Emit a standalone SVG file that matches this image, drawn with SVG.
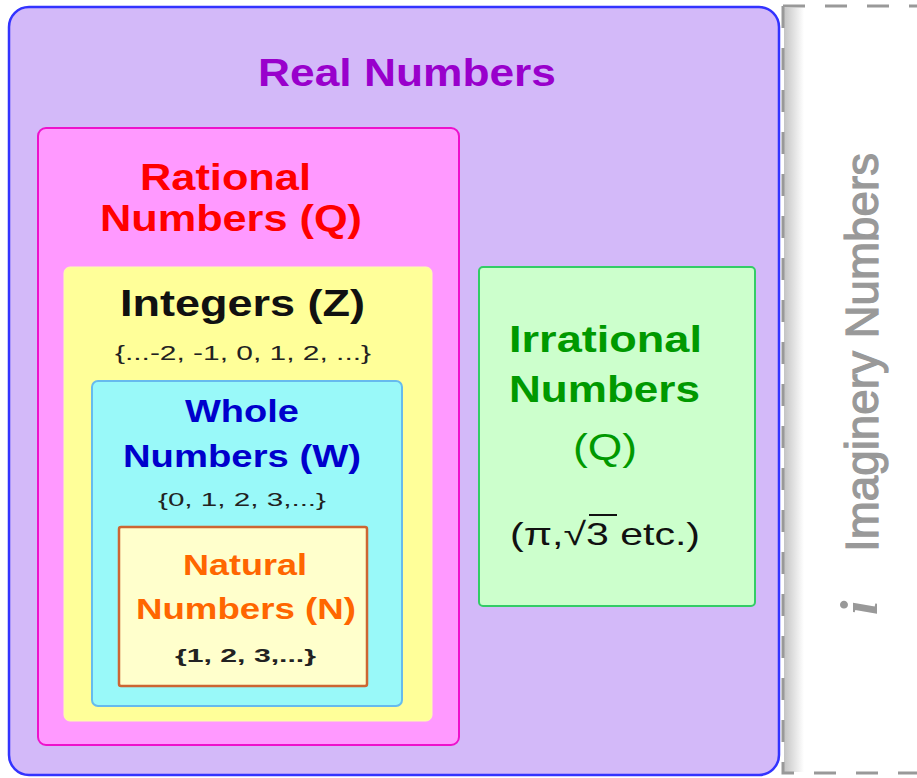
<svg xmlns="http://www.w3.org/2000/svg" width="917" height="778" viewBox="0 0 917 778">
<defs>
<linearGradient id="shadow" x1="0" y1="0" x2="1" y2="0">
<stop offset="0" stop-color="#c4c4c4"/>
<stop offset="1" stop-color="#ffffff"/>
</linearGradient>
</defs>
<style>
text{font-family:"Liberation Sans",Arial,sans-serif;}
.b{font-weight:bold;}
</style>
<rect width="917" height="778" fill="#ffffff"/>
<g id="imaginary">
<rect x="784" y="8" width="20" height="764" fill="url(#shadow)"/>
<path d="M783,6 H917 M783,6 V773 H917" fill="none" stroke="#999999" stroke-width="3" stroke-dasharray="22 20"/>
<text transform="translate(878,552) rotate(-90)" font-size="46" fill="#999999" stroke="#999999" stroke-width="1.2" textLength="399" lengthAdjust="spacingAndGlyphs">Imaginery Numbers</text>
<text transform="translate(877,615) rotate(-90)" font-size="52" fill="#999999" font-style="italic" font-weight="bold" style="font-family:'Liberation Serif',serif">i</text>
</g>
<g id="real">
<rect x="9" y="7" width="770" height="768" rx="20" fill="#d3b9f9" stroke="#3333ff" stroke-width="2.5"/>
<text x="258" y="86" font-size="38" class="b" fill="#9900cc" textLength="298" lengthAdjust="spacingAndGlyphs">Real Numbers</text>
</g>
<g id="rational">
<rect x="38" y="128" width="421" height="617" rx="8" fill="#ff99ff" stroke="#ee11cc" stroke-width="2"/>
<text x="140" y="190" font-size="36" class="b" fill="#ff0000" textLength="171" lengthAdjust="spacingAndGlyphs">Rational</text>
<text x="100" y="231" font-size="36" class="b" fill="#ff0000" textLength="262" lengthAdjust="spacingAndGlyphs">Numbers (Q)</text>
</g>
<g id="integers">
<rect x="64" y="267" width="368" height="454" rx="6" fill="#ffff99" stroke="#fffcb0" stroke-width="1"/>
<text x="120" y="316" font-size="36" class="b" fill="#111111" textLength="245" lengthAdjust="spacingAndGlyphs">Integers (Z)</text>
<text x="115" y="360" font-size="20" fill="#222222" textLength="256" lengthAdjust="spacingAndGlyphs">{...-2, -1, 0, 1, 2, ...}</text>
</g>
<g id="whole">
<rect x="92" y="381" width="310" height="325" rx="6" fill="#99f9f9" stroke="#66bbee" stroke-width="2"/>
<text x="185" y="422" font-size="31" class="b" fill="#0000cc" textLength="114" lengthAdjust="spacingAndGlyphs">Whole</text>
<text x="123" y="467" font-size="31" class="b" fill="#0000cc" textLength="238" lengthAdjust="spacingAndGlyphs">Numbers (W)</text>
<text x="158" y="506" font-size="19" fill="#222222" textLength="168" lengthAdjust="spacingAndGlyphs">{0, 1, 2, 3,...}</text>
</g>
<g id="natural">
<rect x="119" y="527" width="248" height="159" rx="2" fill="#ffffcc" stroke="#cc6633" stroke-width="2.5"/>
<text x="183" y="575" font-size="30" class="b" fill="#ff6600" textLength="124" lengthAdjust="spacingAndGlyphs">Natural</text>
<text x="136" y="619" font-size="30" class="b" fill="#ff6600" textLength="220" lengthAdjust="spacingAndGlyphs">Numbers (N)</text>
<text x="175" y="662" font-size="19" class="b" fill="#222222" textLength="141" lengthAdjust="spacingAndGlyphs">{1, 2, 3,...}</text>
</g>
<g id="irrational">
<rect x="479" y="267" width="276" height="339" rx="4" fill="#ccffcc" stroke="#33cc66" stroke-width="2"/>
<text x="509" y="352" font-size="36" class="b" fill="#009900" textLength="193" lengthAdjust="spacingAndGlyphs">Irrational</text>
<text x="509" y="402" font-size="36" class="b" fill="#009900" textLength="191" lengthAdjust="spacingAndGlyphs">Numbers</text>
<text x="573" y="460" font-size="36" fill="#009900" textLength="64" lengthAdjust="spacingAndGlyphs">(Q)</text>
<text x="510" y="545" font-size="32" fill="#111111" textLength="190" lengthAdjust="spacingAndGlyphs">(π,√3 etc.)</text>
<line x1="589" y1="515" x2="617" y2="515" stroke="#111111" stroke-width="2"/>
</g>
</svg>
